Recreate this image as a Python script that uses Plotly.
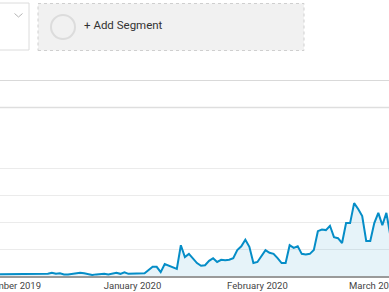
import plotly.graph_objects as go
import pandas as pd

# Daily sessions, 2019-11-29 .. 2020-03-05
start_date = "2019-11-29"
sessions = [
    3, 3, 4, 3, 4, 3, 3, 4, 3, 3, 4, 3, 4, 6, 4, 5, 3, 3, 4, 6, 6, 5, 4, 2, 3, 4, 4, 3, 5, 6, 4, 7, 4,
    4, 4, 5, 5, 11, 17, 17, 7, 22, 19, 17, 13, 57, 35, 41, 33, 24, 19, 20,
    28, 33, 26, 30, 29, 30, 33, 48, 55, 67, 54, 24, 26,
    37, 48, 43, 41, 33, 24, 24, 57, 52, 55, 41, 40, 41, 48, 83, 86, 85, 93, 72, 70, 61,
    98, 98, 135, 124, 111, 65, 65, 98, 117, 94, 117, 74,
]
dates = pd.date_range(start_date, periods=len(sessions), freq="D")

tick_dates = ["2019-12-01", "2020-01-01", "2020-02-01", "2020-03-01"]
tick_labels = ["December 2019", "January 2020", "February 2020", "March 2020"]
grid_values = [0, 50, 100, 150, 200]
segment_label = "+ Add Segment"

W, H = 389, 292
BASE = 276  # pixel row of the chart baseline
PX_PER_UNIT = 27 / 50  # 27 px between gridlines of 50


def px(p):
    return p / W


def py(p):
    return (BASE - p) / BASE


fig = go.Figure()
fig.add_trace(go.Scatter(
    x=dates, y=sessions, mode="lines",
    line=dict(color="#058dc7", width=2),
    fill="tozeroy", fillcolor="rgba(5,141,199,0.10)",
    hoverinfo="skip",
))

shapes = [
    # left dropdown box
    dict(type="rect", xref="paper", yref="paper", x0=px(-6), x1=px(29), y0=py(50), y1=py(3),
         line=dict(color="#dcdcdc", width=1), fillcolor="#ffffff", layer="above"),
    dict(type="path", xref="paper", yref="paper",
         path=f"M {px(14.5)} {py(13.5)} L {px(18.5)} {py(17)} L {px(22.5)} {py(13.5)}",
         line=dict(color="#b5b5b5", width=1), layer="above"),
    # add segment box
    dict(type="rect", xref="paper", yref="paper", x0=px(38), x1=px(304), y0=py(50.5), y1=py(3.5),
         line=dict(color="#cfcfcf", width=1, dash="dot"), fillcolor="#f1f1f1", layer="above"),
    dict(type="circle", xref="paper", yref="paper", x0=px(51), x1=px(75), y0=py(39), y1=py(15),
         line=dict(color="#dcdcdc", width=2), fillcolor="#f1f1f1", layer="above"),
    # separators
    dict(type="line", xref="paper", yref="paper", x0=0, x1=1, y0=py(80.5), y1=py(80.5),
         line=dict(color="#d9d9d9", width=1), layer="above"),
    dict(type="line", xref="paper", yref="paper", x0=0, x1=1, y0=py(107.5), y1=py(107.5),
         line=dict(color="#dedede", width=1.5), layer="above"),
]

fig.update_layout(
    width=W, height=H,
    margin=dict(l=0, r=0, t=0, b=H - BASE, autoexpand=False),
    paper_bgcolor="white", plot_bgcolor="white",
    showlegend=False,
    shapes=shapes,
    annotations=[dict(
        text=segment_label, xref="paper", yref="paper", x=px(82), y=py(25),
        xanchor="left", yanchor="middle", showarrow=False,
        font=dict(family="Roboto", size=11.5, color="#333333"),
    )],
    xaxis=dict(
        range=["2019-11-29 02:53", "2020-03-04 15:36"],
        tickmode="array", tickvals=tick_dates, ticktext=tick_labels,
        showgrid=False, zeroline=False,
        showline=True, linecolor="#9a9a9a", linewidth=1.5,
        ticks="", tickfont=dict(family="Roboto", size=9.5, color="#444444"),
        ticklabeloverflow="allow", automargin=False,
        fixedrange=True,
    ),
    yaxis=dict(
        range=[0, BASE / PX_PER_UNIT],
        tickmode="array", tickvals=grid_values,
        showgrid=True, gridcolor="#ebebeb", gridwidth=1,
        zeroline=False, showticklabels=False, showline=False,
        automargin=False, fixedrange=True,
    ),
)

fig.write_html("out.html")
